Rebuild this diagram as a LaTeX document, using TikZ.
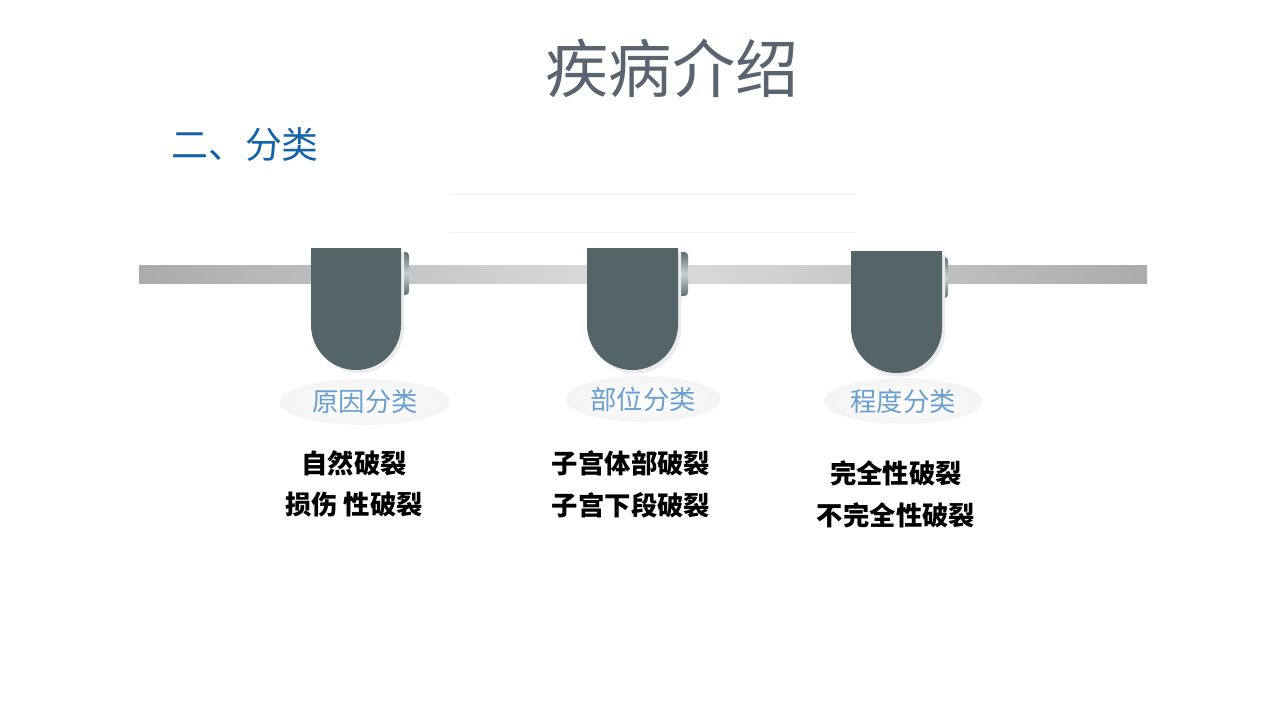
\documentclass[tikz,border=0pt]{standalone}
\usepackage{fontspec}
\setmainfont{Noto Sans CJK SC}
\usetikzlibrary{positioning, shapes.geometric}
\definecolor{tabgray}{HTML}{546569}
\definecolor{titlegray}{HTML}{5A6470}
\definecolor{headblue}{HTML}{1462A8}
\definecolor{labelblue}{HTML}{6A9FD0}
\definecolor{bardark}{HTML}{ABABAB}
\definecolor{barlight}{HTML}{DEDEDE}
\definecolor{folddark}{HTML}{5E6E72}
\definecolor{foldlight}{HTML}{C8D0D2}

\begin{document}
\begin{tikzpicture}[x=0.02cm, y=-0.02cm, tab/.style={fill=tabgray}, tabshadow/.style={fill=gray!16}, fold/.style={rounded corners=2pt, top color=folddark, bottom color=folddark, middle color=foldlight}, oval/.style={ellipse, inner sep=0pt, minimum width=97pt, minimum height=26pt, inner color=white, outer color=gray!9, text=labelblue, font=\fontsize{15}{18}\selectfont}, body/.style={font=\fontsize{15}{18}\selectfont\bfseries, text=black}]
        \useasboundingbox[fill=white] (0,0) rectangle (1280,720);

        \node[text=titlegray, font=\fontsize{36}{40}\selectfont] (title) at (672,68) {疾病介绍};
        \node[text=headblue, font=\fontsize{21}{24}\selectfont, anchor=west] (head) at (165,145) {二、分类};

        \draw[gray!10] (450,194) -- (856,194);
        \draw[gray!10] (450,232) -- (856,232);

        % bar
        \shade[left color=bardark, right color=bardark, middle color=barlight] (139,265) rectangle (1147,283);

        % folds
        \shade[fold] (396,252) rectangle (409,295);
        \shade[fold] (672,252) rectangle (688,296);
        \shade[fold] (936,257) rectangle (948,298);

        % tabs
        \fill[tabshadow] (314,252) -- (404,252) -- (404,328) arc (0:180:45) -- cycle;
        \fill[tab] (311,248) -- (401,248) -- (401,325) arc (0:180:45) -- cycle;
        \fill[tabshadow] (590,252) -- (681,252) -- (681,328) arc (0:180:45.5) -- cycle;
        \fill[tab] (587,248) -- (678,248) -- (678,324.5) arc (0:180:45.5) -- cycle;
        \fill[tabshadow] (854,255) -- (945,255) -- (945,331) arc (0:180:45.5) -- cycle;
        \fill[tab] (851,251) -- (942,251) -- (942,327.5) arc (0:180:45.5) -- cycle;

        % labels
        \node[oval] (cause) at (365,402) {原因分类};
        \node[oval, minimum width=88pt] (site) at (643,399) {部位分类};
        \node[oval, minimum width=90pt] (degree) at (903,401) {程度分类};

        \node[body] (c1) at (354,463) {自然破裂};
        \node[body] (c2) at (354,505) {损伤 性破裂};
        \node[body] (s1) at (631,463) {子宫体部破裂};
        \node[body] (s2) at (631,505) {子宫下段破裂};
        \node[body] (d1) at (896,473) {完全性破裂};
        \node[body] (d2) at (896,515) {不完全性破裂};
    \end{tikzpicture}
\end{document}
